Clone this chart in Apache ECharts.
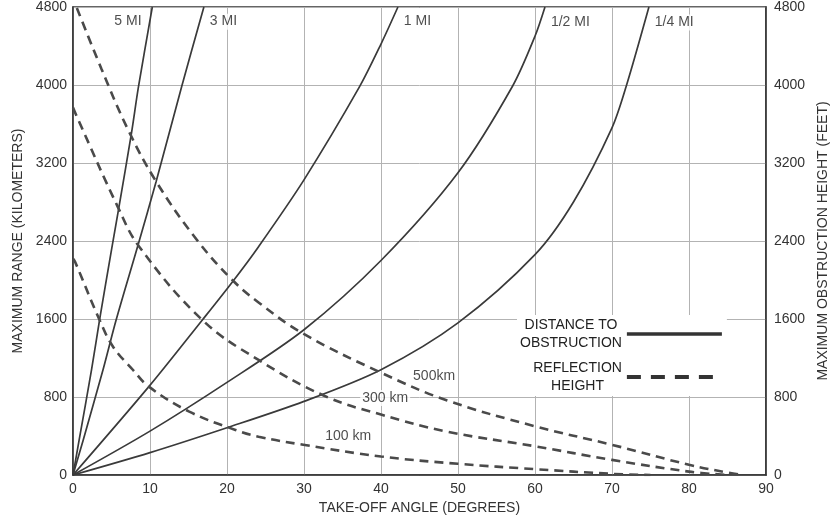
<!DOCTYPE html>
<html><head><meta charset="utf-8">
<script src="https://cdn.jsdelivr.net/npm/echarts@6/dist/echarts.min.js"></script>
<style>html,body{margin:0;padding:0;background:#fff}#c{width:838px;height:523px}</style>
</head><body><div id="c"></div>
<script>
// ---- data ----
const xTicks = [0, 10, 20, 30, 40, 50, 60, 70, 80, 90];
const yTicks = [0, 800, 1600, 2400, 3200, 4000, 4800];

// Distance to obstruction curves: [take-off angle (deg), value]
const mi5  = [[0,0],[0.8,360],[2.41,1080],[3.45,1590],[5.0,2310],[5.95,2740],[7.6,3510],[8.5,3980],[10.3,4800]];
const mi3  = [[0,0],[1.33,360],[3.9,1080],[5.6,1590],[8.45,2360],[10.8,3010],[14.1,3980],[17.0,4800]];
const mi1  = [[0,0],[9.85,906],[16.8,1590],[20.7,1980],[24.1,2342],[30,3027],[37.2,3980],[40,4420],[42.2,4800]];
const miHalf = [[0,0],[10,450],[20,950],[30,1490],[40,2200],[50,3100],[57.1,3990],[60,4500],[61.3,4800]];
const miQuarter = [[0,0],[10,230],[20,485],[30,755],[40,1080],[50,1560],[60,2260],[65,2800],[70,3560],[71.9,4000],[74.8,4800]];

// Reflection height curves
const km500 = [[0.5,4790],[3.7,4165],[7.1,3550],[10.8,3010],[16.1,2410],[20.7,2000],[24.1,1770],[29.9,1450],[40,1050],[48.6,765],[60,500],[70,310],[80,105],[85,25],[87,0]];
const km300 = [[0,3770],[0.7,3640],[5.8,2753],[8.6,2342],[16.8,1590],[24.1,1180],[32.7,810],[40,620],[48.6,445],[60,295],[70,155],[80,35],[85,0]];
const km100 = [[0,2220],[0.25,2190],[3.45,1590],[5.2,1316],[7.8,1077],[9.85,906],[15.1,650],[21.1,462],[24.1,393],[29.9,310],[40,190],[50,115],[60,60],[70,12],[75,0]];

// Curve labels: [angle, value, text]
const curveLabels = [[5.1,4650,'5 MI'],[17.5,4650,'3 MI'],[42.7,4650,'1 MI'],[61.8,4640,'1/2 MI'],[75.3,4640,'1/4 MI']];
const kmLabels = [[43.9,1016,'500km'],[37.3,790,'300 km'],[32.5,400,'100 km']];

const SOLID = 'DISTANCE TO\nOBSTRUCTION';
const DASH = 'REFLECTION\nHEIGHT';
const FONT = '"Liberation Sans", Arial, sans-serif';

const solidSets = [mi5, mi3, mi1, miHalf, miQuarter];
const dashSets = [km500, km300, km100];

const series = [];
solidSets.forEach(d => series.push({
  name: SOLID, type: 'line', data: d, symbol: 'none', smooth: 0.3,
  lineStyle: {color: '#3a3a3a', width: 1.7, type: 'solid'}, itemStyle: {color: '#3a3a3a'}, silent: true
}));
dashSets.forEach(d => series.push({
  name: DASH, type: 'line', data: d, symbol: 'none', smooth: 0.4,
  lineStyle: {color: '#4a4a4a', width: 2.6, type: [9, 6]}, itemStyle: {color: '#4a4a4a'}, silent: true
}));
series.push({
  name: 'curveLabels', type: 'scatter', data: curveLabels, symbolSize: 0.1,
  itemStyle: {color: 'rgba(0,0,0,0)'}, silent: true, z: 5,
  label: {show: true, position: 'right', distance: 0, formatter: p => p.data[2],
    fontFamily: FONT, fontSize: 14, color: '#222', backgroundColor: '#fff', padding: [1, 2]}
});
series.push({
  name: 'kmLabels', type: 'scatter', data: kmLabels, symbolSize: 0.1,
  itemStyle: {color: 'rgba(0,0,0,0)'}, silent: true, z: 5,
  label: {show: true, position: 'right', distance: 0, formatter: p => p.data[2],
    fontFamily: FONT, fontSize: 14, color: '#222', backgroundColor: '#fff', padding: [1, 2]}
});

const axisCommon = {
  type: 'value', min: 0, max: 4800, interval: 800,
  axisLine: {show: true, lineStyle: {color: '#333', width: 1.5}},
  axisTick: {show: false},
  nameLocation: 'middle',
  nameTextStyle: {fontFamily: FONT, fontSize: 14, color: '#333'},
  axisLabel: {fontFamily: FONT, fontSize: 14, color: '#333'}
};

const chart = echarts.init(document.getElementById('c'), null, {renderer: 'canvas'});
chart.setOption({
  animation: false,
  backgroundColor: '#fff',
  grid: {left: 73, right: 68, top: 7, bottom: 48, show: true, borderColor: '#333', borderWidth: 1.5, backgroundColor: 'transparent'},
  legend: {
    orient: 'vertical', left: 517, top: 315, align: 'right', itemWidth: 95, itemHeight: 14, itemGap: 7,
    backgroundColor: '#fff', padding: [1, 3], selectedMode: false,
    formatter: n => n.split('\n').map(s => '{c|' + s + '}').join('\n'),
    textStyle: {fontFamily: FONT, fontSize: 14, color: '#222', lineHeight: 18,
      rich: {c: {align: 'center', fontFamily: FONT, fontSize: 14, color: '#222', lineHeight: 18}}},
    data: [
      {name: SOLID, itemStyle: {opacity: 0, borderWidth: 0}, lineStyle: {color: '#333', width: 3.5, type: 'solid'}},
      {name: DASH, itemStyle: {opacity: 0, borderWidth: 0}, lineStyle: {color: '#333', width: 4, type: [14, 10]}}
    ]
  },
  xAxis: {
    type: 'value', min: 0, max: 90, interval: 10,
    name: 'TAKE-OFF ANGLE (DEGREES)', nameLocation: 'middle', nameGap: 26,
    nameTextStyle: {fontFamily: FONT, fontSize: 14, color: '#333'},
    axisLine: {show: true, lineStyle: {color: '#333', width: 1.5}},
    axisTick: {show: false},
    axisLabel: {fontFamily: FONT, fontSize: 14, color: '#333', margin: 7, formatter: v => xTicks.includes(v) ? String(v) : ''},
    splitLine: {show: true, lineStyle: {color: '#b3b3b3', width: 1}}
  },
  yAxis: [
    Object.assign({}, axisCommon, {
      position: 'left', name: 'MAXIMUM RANGE (KILOMETERS)', nameGap: 48,
      axisLabel: {fontFamily: FONT, fontSize: 14, color: '#333', margin: 6, formatter: v => yTicks.includes(v) ? String(v) : ''},
      splitLine: {show: true, lineStyle: {color: '#b3b3b3', width: 1}}
    }),
    Object.assign({}, axisCommon, {
      position: 'right', name: 'MAXIMUM OBSTRUCTION HEIGHT (FEET)', nameGap: 48,
      axisLabel: {fontFamily: FONT, fontSize: 14, color: '#333', margin: 8, formatter: v => yTicks.includes(v) ? String(v) : ''},
      splitLine: {show: false}
    })
  ],
  series: series
});
</script>
</body></html>
